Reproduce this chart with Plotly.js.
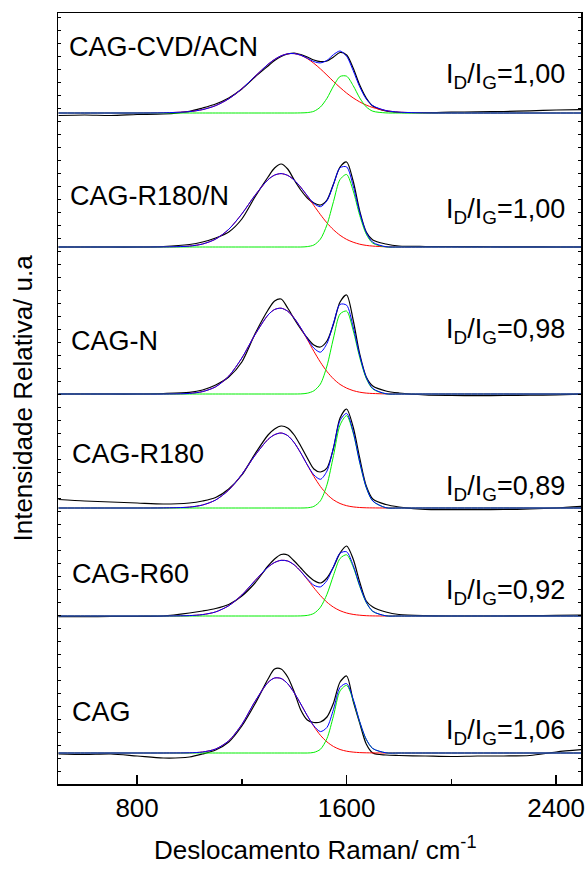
<!DOCTYPE html>
<html><head><meta charset="utf-8">
<script src="https://cdn.plot.ly/plotly-3.0.1.min.js"></script>
<style>html,body{margin:0;padding:0;background:#fff}#chart{width:588px;height:871px}</style>
</head><body><div id="chart"></div>
<script>
// Raman shift grid (cm-1)
const ramanShift = [500,600,700,800,900,1000,1050,1100,1150,1200,1250,1300,1325,1350,1375,1400,1425,1450,1475,1500,1525,1550,1575,1600,1625,1650,1675,1700,1750,1800,1900,2000,2100,2200,2300,2400,2500];

const sampleNames = ["CAG-CVD/ACN","CAG-R180/N","CAG-N","CAG-R180","CAG-R60","CAG"];
const ratioValues = ["1,00","1,00","0,98","0,89","0,92","1,06"];
// vertical stacking offset of each spectrum (a.u.)
const stackOffsets = [671,537,390,276,168,31];

// CAG-CVD/ACN
const measured1 = [-2.5,-2,-2.5,-1.5,-1,1.7,5,9,15,24,36,47,52.5,56.5,59,60,58.5,56,53,51.4,52,56,60.5,58,45,28,15,7,2,0.5,0.3,0.8,1.2,1.5,2.2,3,3.4];
const bandD1 = [0,0,0,0,0.2,1.4,3.4,7.4,14.2,24.3,36.6,48.7,53.6,57.2,59.2,59.4,57.7,54.4,49.7,44.1,37.9,31.5,25.5,19.9,15.1,11.1,7.9,5.5,2.4,0.9,0.1,0,0,0,0,0,0];
const bandG1 = [0,0,0,0,0,0,0,0,0,0,0,0,0,0,0,0,0.1,0.4,1.7,6,14.7,26.9,36.5,36.8,27.4,15.1,6.1,1.8,0.1,0,0,0,0,0,0,0,0];

// CAG-R180/N
const measured2 = [0,0,0,0,0.5,2.5,5,9,15,28,50,70,79,83,78,67,57,49,44,42,47,63,80,85,66,36,15,7,3,1,0.5,0.5,0.3,0.2,0.2,0,0];
const bandD2 = [0,0,0,0,0.1,0.9,3,7.9,17.7,33.1,51.6,67.3,71.9,73.4,71.6,66.9,59.7,50.9,41.5,32.4,24.1,17.2,11.7,7.6,4.8,2.8,1.6,0.9,0.2,0,0,0,0,0,0,0,0];
const bandG2 = [0,0,0,0,0,0,0,0,0,0,0,0,0,0,0,0,0,0.4,2,7.9,22.2,45.5,67.5,72.5,56.3,31.7,12.9,3.8,0.1,0,0,0,0,0,0,0,0];

// CAG-N
const measured3 = [0,0,0,0,0.5,1.7,4,9,17,32,60,84,93,95,86,75,65,56,49,47,53,70,92,99,74,40,17,8,3,1,-1,-1.5,-1.7,-1.5,-1.2,-0.8,0];
const bandD3 = [0,0,0,0,0,0.6,2.4,7.2,17.9,36,59.2,79,84.5,85.8,82.8,75.8,66,54.5,42.7,31.8,22.5,15.1,9.6,5.9,3.4,1.8,0.9,0.5,0.1,0,0,0,0,0,0,0,0];
const bandG3 = [0,0,0,0,0,0,0,0,0,0,0,0,0,0,0,0,0.1,0.8,3.2,10,28,56,80,82.9,63.7,36.6,15.7,5,0.2,0,0,0,0,0,0,0,0];

// CAG-R180
const measured4 = [8.5,7,6,5,4,5,7,10.5,19,33,54,73,79,82,80,73,62,50,39,36,40,60,90,99,81,50,22,9,3.5,1,-1.5,-1.7,-1.7,-1.5,-1,0,1.7];
const bandD4 = [0,0,0,0,0.1,0.9,3,8,18,33.6,52.5,68.6,73.3,75,72.4,65.3,54.9,43,31.5,21.5,13.7,8.1,4.5,2.3,1.1,0.5,0.2,0.1,0,0,0,0,0,0,0,0,0];
const bandG4 = [0,0,0,0,0,0,0,0,0,0,0,0,0,0,0,0,0,0.2,1.6,7.2,23.2,52.4,83,92.3,75.2,45.5,20.5,6.9,0.3,0,0,0,0,0,0,0,0];

// CAG-R60
const measured5 = [-0.7,-0.7,-0.5,-0.5,0,3,5,7.5,11.5,20,33,50,57,61.5,61,55,48,41,35.5,33,38,49,63,70,57,34,15,9,4,1.5,0.3,0,0,0,0.3,0.6,1];
const bandD5 = [0,0,0,0,0,0.4,1.4,4.1,10.3,21,35.3,48.9,53.5,55.7,55,51.1,44.6,36.6,28.2,20.4,13.8,8.8,5.3,3,1.6,0.8,0.3,0.1,0,0,0,0,0,0,0,0,0];
const bandG5 = [0,0,0,0,0,0,0,0,0,0,0,0,0,0,0,0,0.1,0.6,2.6,8.7,21.7,40.7,57.5,61.2,49.1,29.7,13.5,4.6,0.2,0,0,0,0,0,0,0,0];

// CAG
const measured6 = [-1,-1.5,-1,-3,-5,-4,-1,3,11,27,49,74,84,84,76,61,43,33,30.5,31,36,50,71,77,52,30,9,0,-2,-2.5,-3,-3.5,-3,-3,-2.5,1,3.4];
const bandD6 = [0,0,0,0,0,0.2,1,4,12.2,28.6,51.4,70.6,75,74.5,69.3,60.2,49,37.3,26.6,17.7,11.1,6.5,3.5,1.8,0.9,0.4,0.2,0.1,0,0,0,0,0,0,0,0,0];
const bandG6 = [0,0,0,0,0,0,0,0,0,0,0,0,0,0,0,0,0,0,0.6,3.7,14.5,37.2,62.1,67.6,53,31,13.5,4.4,0.2,0,0,0,0,0,0,0,0];

const measured = [measured1,measured2,measured3,measured4,measured5,measured6];
const bandD = [bandD1,bandD2,bandD3,bandD4,bandD5,bandD6];
const bandG = [bandG1,bandG2,bandG3,bandG4,bandG5,bandG6];

const FONT = "Liberation Sans, Arial, Helvetica, sans-serif";
const traces = [];
for (let i = 0; i < 6; i++) {
  const off = stackOffsets[i];
  const shift = arr => arr.map(v => v + off);
  const sum = bandD[i].map((v, k) => v + bandG[i][k]);
  const ln = (c, w) => ({color: c, width: w, shape: 'spline', smoothing: 0.8});
  traces.push({x: ramanShift, y: shift(measured[i]), mode: 'lines', line: ln('#000000', 1.2), hoverinfo: 'skip'});
  traces.push({x: ramanShift, y: shift(bandD[i]), mode: 'lines', line: ln('#ff0000', 1), hoverinfo: 'skip'});
  traces.push({x: ramanShift, y: shift(bandG[i]), mode: 'lines', line: ln('#00ee00', 1), hoverinfo: 'skip'});
  traces.push({x: ramanShift, y: shift(sum), mode: 'lines', line: ln('#0000ff', 1), hoverinfo: 'skip'});
}

// label placement (data coords)
const nameX = [533, 538, 540, 542, 542, 542];
const nameY = [737, 588, 443, 330, 210, 72];
const ratioY = [708, 573, 453, 296, 192, 52];

const annotations = [];
for (let i = 0; i < 6; i++) {
  annotations.push({x: nameX[i], y: nameY[i], xref: 'x', yref: 'y', text: sampleNames[i], showarrow: false,
    xanchor: 'left', yanchor: 'middle', font: {family: FONT, size: 27, color: '#000'}});
  annotations.push({x: 2442, y: ratioY[i], xref: 'x', yref: 'y', text: 'I<sub>D</sub>/I<sub>G</sub>=' + ratioValues[i], showarrow: false,
    xanchor: 'right', yanchor: 'middle', font: {family: FONT, size: 27, color: '#000'}});
}
annotations.push({x: 0, xshift: -36, y: 0.5, xref: 'paper', yref: 'paper', text: 'Intensidade Relativa/ u.a', textangle: -90,
  showarrow: false, xanchor: 'center', yanchor: 'middle', font: {family: FONT, size: 26, color: '#000'}});
annotations.push({x: 0.493, y: 0, yshift: -64, xref: 'paper', yref: 'paper', text: 'Deslocamento Raman/ cm<sup>-1</sup>',
  showarrow: false, xanchor: 'center', yanchor: 'middle', font: {family: FONT, size: 26, color: '#000'}});

const layout = {
  width: 588, height: 871,
  margin: {l: 58, r: 7, t: 13, b: 87, pad: 0},
  paper_bgcolor: '#fff', plot_bgcolor: '#fff',
  showlegend: false,
  font: {family: FONT, color: '#000'},
  xaxis: {
    range: [498, 2495], tickvals: [800, 1600, 2400], ticktext: ['800', '1600', '2400'],
    ticks: 'inside', ticklen: 9, tickwidth: 1.3, tickcolor: '#000',
    minor: {tickvals: [1200, 2000], ticks: 'inside', ticklen: 5, tickwidth: 1.3, tickcolor: '#000'},
    showline: true, linecolor: '#000', linewidth: 1.5, mirror: true,
    showgrid: false, zeroline: false,
    tickfont: {family: FONT, size: 26, color: '#000'}
  },
  yaxis: {
    range: [0, 771], showticklabels: false, ticks: 'inside', ticklen: 3, tickwidth: 1, tickcolor: '#000',
    tick0: 0, dtick: 13,
    showline: true, linecolor: '#000', linewidth: 1.5, mirror: 'ticks',
    showgrid: false, zeroline: false
  },
  annotations: annotations
};

Plotly.newPlot('chart', traces, layout, {staticPlot: true, displayModeBar: false});
</script></body></html>
